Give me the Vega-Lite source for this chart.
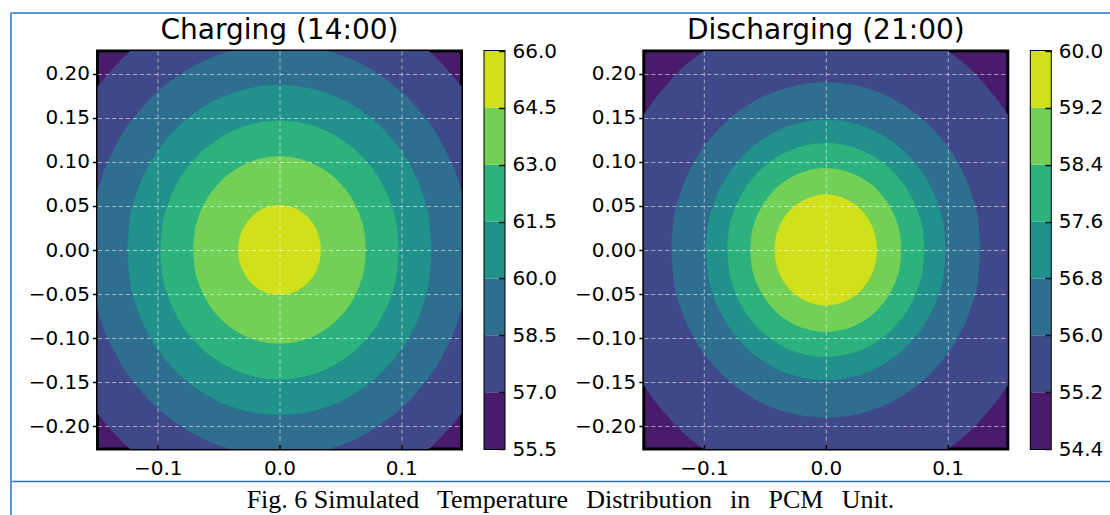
{
"$schema": "https://vega.github.io/schema/vega-lite/v6.json",
"padding": {"left": 10, "top": 12, "right": 0, "bottom": 0},
"background": "white",
"config": {"font": "DejaVu Sans", "view": {"stroke": null}},
"datasets": {
"L": [
{"v":57,"x":-0.194,"y":0,"y2":0},{"v":57,"x":-0.1911,"y":0.0505,"y2":-0.0505},{"v":57,"x":-0.1823,"y":0.0995,"y2":-0.0995},{"v":57,"x":-0.168,"y":0.1455,"y2":-0.1455},{"v":57,"x":-0.1372,"y":0.2058,"y2":-0.2058},{"v":57,"x":-0.097,"y":0.252,"y2":-0.252},{"v":57,"x":-0.0502,"y":0.2811,"y2":-0.2811},{"v":57,"x":0,"y":0.291,"y2":-0.291},{"v":57,"x":0.0502,"y":0.2811,"y2":-0.2811},{"v":57,"x":0.097,"y":0.252,"y2":-0.252},{"v":57,"x":0.1372,"y":0.2058,"y2":-0.2058},{"v":57,"x":0.168,"y":0.1455,"y2":-0.1455},{"v":57,"x":0.1823,"y":0.0995,"y2":-0.0995},{"v":57,"x":0.1911,"y":0.0505,"y2":-0.0505},{"v":57,"x":0.194,"y":0,"y2":0},
{"v":58.5,"x":-0.156,"y":0,"y2":0},{"v":58.5,"x":-0.1536,"y":0.0406,"y2":-0.0406},{"v":58.5,"x":-0.1466,"y":0.08,"y2":-0.08},{"v":58.5,"x":-0.1351,"y":0.117,"y2":-0.117},{"v":58.5,"x":-0.1103,"y":0.1655,"y2":-0.1655},{"v":58.5,"x":-0.078,"y":0.2026,"y2":-0.2026},{"v":58.5,"x":-0.0404,"y":0.226,"y2":-0.226},{"v":58.5,"x":0,"y":0.234,"y2":-0.234},{"v":58.5,"x":0.0404,"y":0.226,"y2":-0.226},{"v":58.5,"x":0.078,"y":0.2026,"y2":-0.2026},{"v":58.5,"x":0.1103,"y":0.1655,"y2":-0.1655},{"v":58.5,"x":0.1351,"y":0.117,"y2":-0.117},{"v":58.5,"x":0.1466,"y":0.08,"y2":-0.08},{"v":58.5,"x":0.1536,"y":0.0406,"y2":-0.0406},{"v":58.5,"x":0.156,"y":0,"y2":0},
{"v":60,"x":-0.125,"y":0,"y2":0},{"v":60,"x":-0.1231,"y":0.0326,"y2":-0.0326},{"v":60,"x":-0.1175,"y":0.0641,"y2":-0.0641},{"v":60,"x":-0.1083,"y":0.0938,"y2":-0.0938},{"v":60,"x":-0.0884,"y":0.1326,"y2":-0.1326},{"v":60,"x":-0.0625,"y":0.1624,"y2":-0.1624},{"v":60,"x":-0.0324,"y":0.1811,"y2":-0.1811},{"v":60,"x":0,"y":0.1875,"y2":-0.1875},{"v":60,"x":0.0324,"y":0.1811,"y2":-0.1811},{"v":60,"x":0.0625,"y":0.1624,"y2":-0.1624},{"v":60,"x":0.0884,"y":0.1326,"y2":-0.1326},{"v":60,"x":0.1083,"y":0.0938,"y2":-0.0938},{"v":60,"x":0.1175,"y":0.0641,"y2":-0.0641},{"v":60,"x":0.1231,"y":0.0326,"y2":-0.0326},{"v":60,"x":0.125,"y":0,"y2":0},
{"v":61.5,"x":-0.098,"y":0,"y2":0},{"v":61.5,"x":-0.0965,"y":0.0255,"y2":-0.0255},{"v":61.5,"x":-0.0921,"y":0.0503,"y2":-0.0503},{"v":61.5,"x":-0.0849,"y":0.0735,"y2":-0.0735},{"v":61.5,"x":-0.0693,"y":0.1039,"y2":-0.1039},{"v":61.5,"x":-0.049,"y":0.1273,"y2":-0.1273},{"v":61.5,"x":-0.0254,"y":0.142,"y2":-0.142},{"v":61.5,"x":0,"y":0.147,"y2":-0.147},{"v":61.5,"x":0.0254,"y":0.142,"y2":-0.142},{"v":61.5,"x":0.049,"y":0.1273,"y2":-0.1273},{"v":61.5,"x":0.0693,"y":0.1039,"y2":-0.1039},{"v":61.5,"x":0.0849,"y":0.0735,"y2":-0.0735},{"v":61.5,"x":0.0921,"y":0.0503,"y2":-0.0503},{"v":61.5,"x":0.0965,"y":0.0255,"y2":-0.0255},{"v":61.5,"x":0.098,"y":0,"y2":0},
{"v":63,"x":-0.071,"y":0,"y2":0},{"v":63,"x":-0.0699,"y":0.0185,"y2":-0.0185},{"v":63,"x":-0.0667,"y":0.0364,"y2":-0.0364},{"v":63,"x":-0.0615,"y":0.0533,"y2":-0.0533},{"v":63,"x":-0.0502,"y":0.0753,"y2":-0.0753},{"v":63,"x":-0.0355,"y":0.0922,"y2":-0.0922},{"v":63,"x":-0.0184,"y":0.1029,"y2":-0.1029},{"v":63,"x":0,"y":0.1065,"y2":-0.1065},{"v":63,"x":0.0184,"y":0.1029,"y2":-0.1029},{"v":63,"x":0.0355,"y":0.0922,"y2":-0.0922},{"v":63,"x":0.0502,"y":0.0753,"y2":-0.0753},{"v":63,"x":0.0615,"y":0.0533,"y2":-0.0533},{"v":63,"x":0.0667,"y":0.0364,"y2":-0.0364},{"v":63,"x":0.0699,"y":0.0185,"y2":-0.0185},{"v":63,"x":0.071,"y":0,"y2":0},
{"v":64.5,"x":-0.034,"y":0,"y2":0},{"v":64.5,"x":-0.0335,"y":0.0089,"y2":-0.0089},{"v":64.5,"x":-0.0319,"y":0.0174,"y2":-0.0174},{"v":64.5,"x":-0.0294,"y":0.0255,"y2":-0.0255},{"v":64.5,"x":-0.024,"y":0.0361,"y2":-0.0361},{"v":64.5,"x":-0.017,"y":0.0442,"y2":-0.0442},{"v":64.5,"x":-0.0088,"y":0.0493,"y2":-0.0493},{"v":64.5,"x":0,"y":0.051,"y2":-0.051},{"v":64.5,"x":0.0088,"y":0.0493,"y2":-0.0493},{"v":64.5,"x":0.017,"y":0.0442,"y2":-0.0442},{"v":64.5,"x":0.024,"y":0.0361,"y2":-0.0361},{"v":64.5,"x":0.0294,"y":0.0255,"y2":-0.0255},{"v":64.5,"x":0.0319,"y":0.0174,"y2":-0.0174},{"v":64.5,"x":0.0335,"y":0.0089,"y2":-0.0089},{"v":64.5,"x":0.034,"y":0,"y2":0}
],
"R": [
{"v":55.2,"x":-0.181,"y":0,"y2":0},{"v":55.2,"x":-0.1782,"y":0.0471,"y2":-0.0471},{"v":55.2,"x":-0.1701,"y":0.0929,"y2":-0.0929},{"v":55.2,"x":-0.1567,"y":0.1358,"y2":-0.1358},{"v":55.2,"x":-0.128,"y":0.192,"y2":-0.192},{"v":55.2,"x":-0.0905,"y":0.2351,"y2":-0.2351},{"v":55.2,"x":-0.0468,"y":0.2622,"y2":-0.2622},{"v":55.2,"x":0,"y":0.2715,"y2":-0.2715},{"v":55.2,"x":0.0468,"y":0.2622,"y2":-0.2622},{"v":55.2,"x":0.0905,"y":0.2351,"y2":-0.2351},{"v":55.2,"x":0.128,"y":0.192,"y2":-0.192},{"v":55.2,"x":0.1567,"y":0.1358,"y2":-0.1358},{"v":55.2,"x":0.1701,"y":0.0929,"y2":-0.0929},{"v":55.2,"x":0.1782,"y":0.0471,"y2":-0.0471},{"v":55.2,"x":0.181,"y":0,"y2":0},
{"v":56,"x":-0.127,"y":0,"y2":0},{"v":56,"x":-0.1251,"y":0.0331,"y2":-0.0331},{"v":56,"x":-0.1193,"y":0.0652,"y2":-0.0652},{"v":56,"x":-0.11,"y":0.0953,"y2":-0.0953},{"v":56,"x":-0.0898,"y":0.1347,"y2":-0.1347},{"v":56,"x":-0.0635,"y":0.165,"y2":-0.165},{"v":56,"x":-0.0329,"y":0.184,"y2":-0.184},{"v":56,"x":0,"y":0.1905,"y2":-0.1905},{"v":56,"x":0.0329,"y":0.184,"y2":-0.184},{"v":56,"x":0.0635,"y":0.165,"y2":-0.165},{"v":56,"x":0.0898,"y":0.1347,"y2":-0.1347},{"v":56,"x":0.11,"y":0.0953,"y2":-0.0953},{"v":56,"x":0.1193,"y":0.0652,"y2":-0.0652},{"v":56,"x":0.1251,"y":0.0331,"y2":-0.0331},{"v":56,"x":0.127,"y":0,"y2":0},
{"v":56.8,"x":-0.0985,"y":0,"y2":0},{"v":56.8,"x":-0.097,"y":0.0257,"y2":-0.0257},{"v":56.8,"x":-0.0926,"y":0.0505,"y2":-0.0505},{"v":56.8,"x":-0.0853,"y":0.0739,"y2":-0.0739},{"v":56.8,"x":-0.0697,"y":0.1045,"y2":-0.1045},{"v":56.8,"x":-0.0493,"y":0.128,"y2":-0.128},{"v":56.8,"x":-0.0255,"y":0.1428,"y2":-0.1428},{"v":56.8,"x":0,"y":0.1478,"y2":-0.1478},{"v":56.8,"x":0.0255,"y":0.1428,"y2":-0.1428},{"v":56.8,"x":0.0493,"y":0.128,"y2":-0.128},{"v":56.8,"x":0.0697,"y":0.1045,"y2":-0.1045},{"v":56.8,"x":0.0853,"y":0.0739,"y2":-0.0739},{"v":56.8,"x":0.0926,"y":0.0505,"y2":-0.0505},{"v":56.8,"x":0.097,"y":0.0257,"y2":-0.0257},{"v":56.8,"x":0.0985,"y":0,"y2":0},
{"v":57.6,"x":-0.081,"y":0,"y2":0},{"v":57.6,"x":-0.0798,"y":0.0211,"y2":-0.0211},{"v":57.6,"x":-0.0761,"y":0.0416,"y2":-0.0416},{"v":57.6,"x":-0.0701,"y":0.0608,"y2":-0.0608},{"v":57.6,"x":-0.0573,"y":0.0859,"y2":-0.0859},{"v":57.6,"x":-0.0405,"y":0.1052,"y2":-0.1052},{"v":57.6,"x":-0.021,"y":0.1174,"y2":-0.1174},{"v":57.6,"x":0,"y":0.1215,"y2":-0.1215},{"v":57.6,"x":0.021,"y":0.1174,"y2":-0.1174},{"v":57.6,"x":0.0405,"y":0.1052,"y2":-0.1052},{"v":57.6,"x":0.0573,"y":0.0859,"y2":-0.0859},{"v":57.6,"x":0.0701,"y":0.0608,"y2":-0.0608},{"v":57.6,"x":0.0761,"y":0.0416,"y2":-0.0416},{"v":57.6,"x":0.0798,"y":0.0211,"y2":-0.0211},{"v":57.6,"x":0.081,"y":0,"y2":0},
{"v":58.4,"x":-0.062,"y":0,"y2":0},{"v":58.4,"x":-0.0611,"y":0.0161,"y2":-0.0161},{"v":58.4,"x":-0.0583,"y":0.0318,"y2":-0.0318},{"v":58.4,"x":-0.0537,"y":0.0465,"y2":-0.0465},{"v":58.4,"x":-0.0438,"y":0.0658,"y2":-0.0658},{"v":58.4,"x":-0.031,"y":0.0805,"y2":-0.0805},{"v":58.4,"x":-0.016,"y":0.0898,"y2":-0.0898},{"v":58.4,"x":0,"y":0.093,"y2":-0.093},{"v":58.4,"x":0.016,"y":0.0898,"y2":-0.0898},{"v":58.4,"x":0.031,"y":0.0805,"y2":-0.0805},{"v":58.4,"x":0.0438,"y":0.0658,"y2":-0.0658},{"v":58.4,"x":0.0537,"y":0.0465,"y2":-0.0465},{"v":58.4,"x":0.0583,"y":0.0318,"y2":-0.0318},{"v":58.4,"x":0.0611,"y":0.0161,"y2":-0.0161},{"v":58.4,"x":0.062,"y":0,"y2":0},
{"v":59.2,"x":-0.042,"y":0,"y2":0},{"v":59.2,"x":-0.0414,"y":0.0109,"y2":-0.0109},{"v":59.2,"x":-0.0395,"y":0.0215,"y2":-0.0215},{"v":59.2,"x":-0.0364,"y":0.0315,"y2":-0.0315},{"v":59.2,"x":-0.0297,"y":0.0445,"y2":-0.0445},{"v":59.2,"x":-0.021,"y":0.0546,"y2":-0.0546},{"v":59.2,"x":-0.0109,"y":0.0609,"y2":-0.0609},{"v":59.2,"x":0,"y":0.063,"y2":-0.063},{"v":59.2,"x":0.0109,"y":0.0609,"y2":-0.0609},{"v":59.2,"x":0.021,"y":0.0546,"y2":-0.0546},{"v":59.2,"x":0.0297,"y":0.0445,"y2":-0.0445},{"v":59.2,"x":0.0364,"y":0.0315,"y2":-0.0315},{"v":59.2,"x":0.0395,"y":0.0215,"y2":-0.0215},{"v":59.2,"x":0.0414,"y":0.0109,"y2":-0.0109},{"v":59.2,"x":0.042,"y":0,"y2":0}
],
"cbL": [{"lo":55.5,"hi":57},{"lo":57,"hi":58.5},{"lo":58.5,"hi":60},{"lo":60,"hi":61.5},{"lo":61.5,"hi":63},{"lo":63,"hi":64.5},{"lo":64.5,"hi":66}],
"cbR": [{"lo":54.4,"hi":55.2},{"lo":55.2,"hi":56},{"lo":56,"hi":56.8},{"lo":56.8,"hi":57.6},{"lo":57.6,"hi":58.4},{"lo":58.4,"hi":59.2},{"lo":59.2,"hi":60}]
},
"spacing": 0,
"resolve": {"scale": {"x": "independent", "y": "independent", "color": "independent"}, "axis": {"x": "independent", "y": "independent"}},
"hconcat": [
{"width": 0.001, "height": 502, "data": {"values": []}, "mark": "point", "view": {"stroke": "#2074c8", "strokeWidth": 1.5}},
{"spacing": 0.5,
 "resolve": {"scale": {"x": "independent", "y": "independent", "color": "independent"}, "axis": {"x": "independent", "y": "independent"}},
 "vconcat": [
 {"spacing": 1,
  "resolve": {"scale": {"x": "independent", "y": "independent", "color": "independent"}, "axis": {"x": "independent", "y": "independent"}},
  "vconcat": [
   {"width": 1099, "height": 0.001, "data": {"values": []}, "mark": "point", "view": {"stroke": "#2074c8", "strokeWidth": 1.5}},
   {"spacing": 12.5,
    "resolve": {"scale": {"x": "independent", "y": "independent", "color": "independent"}, "axis": {"x": "independent", "y": "independent"}},
    "hconcat": [
     {"width": 0.001, "height": 0.001, "data": {"values": []}, "mark": "point"},
     {"spacing": 14.3,
      "resolve": {"scale": {"x": "independent", "y": "independent", "color": "independent"}, "axis": {"x": "independent", "y": "independent"}},
      "hconcat": [
       {"spacing": 20,
        "resolve": {"scale": {"x": "independent", "y": "independent", "color": "independent"}, "axis": {"x": "independent", "y": "independent"}},
        "hconcat": [
         {"width": 364, "height": 398,
          "title": {"text": "Charging (14:00)", "fontSize": 28, "font": "DejaVu Sans", "fontWeight": "normal", "color": "black", "offset": 6, "anchor": "middle"},
          "data": {"name": "L"},
          "view": {"fill": "#481b6d", "stroke": "black", "strokeWidth": 3},
          "mark": {"type": "area", "clip": true, "interpolate": "monotone"},
          "encoding": {
           "x": {"field": "x", "type": "quantitative", "scale": {"domain": [-0.1495, 0.1495], "nice": false, "zero": false},
                 "axis": {"values": [-0.1, 0, 0.1], "format": ".1f", "title": null, "grid": true, "gridColor": "white", "gridOpacity": 0.55, "gridDash": [4, 3], "gridWidth": 1, "domain": false, "tickSize": -5, "tickColor": "black", "tickWidth": 1.5, "labelFontSize": 20, "labelFont": "DejaVu Sans", "labelColor": "black", "labelPadding": 14.5, "labelFlush": false, "labelOverlap": false, "zindex": 1}},
           "y": {"field": "y", "type": "quantitative", "stack": null, "scale": {"domain": [-0.226, 0.226], "nice": false, "zero": false},
                 "axis": {"values": [-0.2, -0.15, -0.1, -0.05, 0, 0.05, 0.1, 0.15, 0.2], "format": ".2f", "title": null, "grid": true, "gridColor": "white", "gridOpacity": 0.55, "gridDash": [4, 3], "gridWidth": 1, "domain": false, "tickSize": 5, "tickColor": "black", "tickWidth": 1.5, "labelFontSize": 20, "labelFont": "DejaVu Sans", "labelColor": "black", "labelPadding": 3, "labelOverlap": false, "zindex": 1}},
           "y2": {"field": "y2"},
           "color": {"field": "v", "type": "ordinal", "scale": {"domain": [57, 58.5, 60, 61.5, 63, 64.5], "range": ["#3f4889", "#2e6e8e", "#21918c", "#2db27d", "#73d056", "#d0e11c"]}, "legend": null}
          }},
         {"width": 20, "height": 398,
          "data": {"name": "cbL"},
          "view": {"stroke": "black", "strokeWidth": 2},
          "mark": {"type": "rect"},
          "encoding": {
           "y": {"field": "lo", "type": "quantitative", "scale": {"domain": [55.5, 66], "nice": false, "zero": false},
                 "axis": {"orient": "right", "values": [55.5, 57, 58.5, 60, 61.5, 63, 64.5, 66], "format": ".1f", "title": null, "grid": false, "domain": false, "tickSize": -6, "tickColor": "#111111", "tickWidth": 1.5, "labelPadding": 13.5, "labelFontSize": 20, "labelFont": "DejaVu Sans", "labelColor": "black", "labelOverlap": false, "labelFlush": false, "zindex": 1}},
           "y2": {"field": "hi"},
           "color": {"field": "lo", "type": "ordinal", "scale": {"domain": [55.5, 57, 58.5, 60, 61.5, 63, 64.5], "range": ["#481b6d", "#3f4889", "#2e6e8e", "#21918c", "#2db27d", "#73d056", "#d0e11c"]}, "legend": null}
          }}
        ]},
       {"spacing": 20,
        "resolve": {"scale": {"x": "independent", "y": "independent", "color": "independent"}, "axis": {"x": "independent", "y": "independent"}},
        "hconcat": [
         {"width": 364, "height": 398,
          "title": {"text": "Discharging (21:00)", "fontSize": 28, "font": "DejaVu Sans", "fontWeight": "normal", "color": "black", "offset": 6, "anchor": "middle"},
          "data": {"name": "R"},
          "view": {"fill": "#481b6d", "stroke": "black", "strokeWidth": 3},
          "mark": {"type": "area", "clip": true, "interpolate": "monotone"},
          "encoding": {
           "x": {"field": "x", "type": "quantitative", "scale": {"domain": [-0.1495, 0.1495], "nice": false, "zero": false},
                 "axis": {"values": [-0.1, 0, 0.1], "format": ".1f", "title": null, "grid": true, "gridColor": "white", "gridOpacity": 0.55, "gridDash": [4, 3], "gridWidth": 1, "domain": false, "tickSize": -5, "tickColor": "black", "tickWidth": 1.5, "labelFontSize": 20, "labelFont": "DejaVu Sans", "labelColor": "black", "labelPadding": 14.5, "labelFlush": false, "labelOverlap": false, "zindex": 1}},
           "y": {"field": "y", "type": "quantitative", "stack": null, "scale": {"domain": [-0.226, 0.226], "nice": false, "zero": false},
                 "axis": {"values": [-0.2, -0.15, -0.1, -0.05, 0, 0.05, 0.1, 0.15, 0.2], "format": ".2f", "title": null, "grid": true, "gridColor": "white", "gridOpacity": 0.55, "gridDash": [4, 3], "gridWidth": 1, "domain": false, "tickSize": 5, "tickColor": "black", "tickWidth": 1.5, "labelFontSize": 20, "labelFont": "DejaVu Sans", "labelColor": "black", "labelPadding": 3, "labelOverlap": false, "zindex": 1}},
           "y2": {"field": "y2"},
           "color": {"field": "v", "type": "ordinal", "scale": {"domain": [55.2, 56, 56.8, 57.6, 58.4, 59.2], "range": ["#3f4889", "#2e6e8e", "#21918c", "#2db27d", "#73d056", "#d0e11c"]}, "legend": null}
          }},
         {"width": 20, "height": 398,
          "data": {"name": "cbR"},
          "view": {"stroke": "black", "strokeWidth": 2},
          "mark": {"type": "rect"},
          "encoding": {
           "y": {"field": "lo", "type": "quantitative", "scale": {"domain": [54.4, 60], "nice": false, "zero": false},
                 "axis": {"orient": "right", "values": [54.4, 55.2, 56, 56.8, 57.6, 58.4, 59.2, 60], "format": ".1f", "title": null, "grid": false, "domain": false, "tickSize": -6, "tickColor": "#111111", "tickWidth": 1.5, "labelPadding": 13.5, "labelFontSize": 20, "labelFont": "DejaVu Sans", "labelColor": "black", "labelOverlap": false, "labelFlush": false, "zindex": 1}},
           "y2": {"field": "hi"},
           "color": {"field": "lo", "type": "ordinal", "scale": {"domain": [54.4, 55.2, 56, 56.8, 57.6, 58.4, 59.2], "range": ["#481b6d", "#3f4889", "#2e6e8e", "#21918c", "#2db27d", "#73d056", "#d0e11c"]}, "legend": null}
          }}
        ]}
      ]}
    ]}
  ]},
 {"spacing": 0,
  "resolve": {"scale": {"x": "independent", "y": "independent", "color": "independent"}, "axis": {"x": "independent", "y": "independent"}},
  "vconcat": [
   {"width": 1099, "height": 0.001, "data": {"values": []}, "mark": "point", "view": {"stroke": "#2074c8", "strokeWidth": 1.5}},
   {"width": 1099, "height": 31,
    "data": {"values": [{"t": "Fig. 6 Simulated\u00a0\u2009 Temperature\u00a0\u2009 Distribution\u00a0\u2009 in\u00a0\u2009 PCM\u00a0\u2009 Unit."}]},
    "mark": {"type": "text", "font": "Liberation Serif", "fontSize": 26, "color": "black", "dx": 8, "dy": 2, "baseline": "middle", "align": "center"},
    "encoding": {"text": {"field": "t"}}}
  ]}
 ]}
]
}
